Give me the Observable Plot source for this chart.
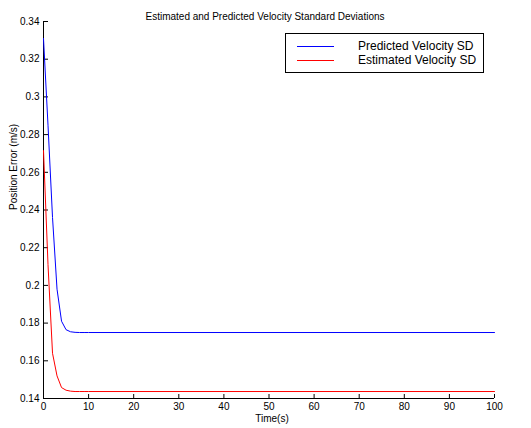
<!DOCTYPE html>
<html>
<head>
<meta charset="utf-8">
<script src="https://cdn.jsdelivr.net/npm/d3@7"></script>
<script src="https://cdn.jsdelivr.net/npm/@observablehq/plot@0.6"></script>
<style>
  body { margin: 0; background: #fff; }
  #wrap { position: relative; width: 531px; height: 428px; font-family: "Liberation Sans", Arial, Helvetica, sans-serif; }
  #legend { position: absolute; left: 285px; top: 33px; width: 199px; height: 40px; border: 1px solid #000; background: #fff; box-sizing: border-box; font-size: 12px; }
  .row { position: absolute; left: 0; height: 14px; width: 100%; }
  .sw { position: absolute; left: 11px; width: 37px; top: 6px; height: 0; border-top: 1px solid; }
  .lb { position: absolute; left: 72px; top: 0; line-height: 13px; white-space: nowrap; color: #000; }
</style>
</head>
<body>
<div id="wrap"></div>
<script>
const title = "Estimated and Predicted Velocity Standard Deviations";
const xLabel = "Time(s)";
const yLabel = "Position Error (m/s)";
const seriesNames = ["Predicted Velocity SD", "Estimated Velocity SD"];
const seriesColors = ["#0000ff", "#ff0000"];
const times = [0, 1, 2, 3, 4, 5, 6, 7, 8, 9, 10, 100];
const predicted = [0.331, 0.285, 0.236, 0.198, 0.181, 0.1765, 0.1754, 0.1751, 0.175, 0.175, 0.175, 0.175];
const estimated = [0.2715, 0.211, 0.164, 0.152, 0.1458, 0.1444, 0.1439, 0.1437, 0.1437, 0.1437, 0.1437, 0.1437];
const xTicks = [0, 10, 20, 30, 40, 50, 60, 70, 80, 90, 100];
const yTicks = [0.14, 0.16, 0.18, 0.2, 0.22, 0.24, 0.26, 0.28, 0.3, 0.32, 0.34];

const data = [];
times.forEach((t, i) => data.push({t, v: predicted[i], s: seriesNames[0]}));
times.forEach((t, i) => data.push({t, v: estimated[i], s: seriesNames[1]}));

const fmt = d => String(+d.toFixed(2));

const chart = Plot.plot({
  width: 531,
  height: 428,
  marginLeft: 43,
  marginRight: 37,
  marginTop: 21,
  marginBottom: 30,
  style: { fontFamily: '"Liberation Sans", Arial, Helvetica, sans-serif', fontSize: "10px", background: "#fff", color: "#000" },
  x: { domain: [0, 100] },
  y: { domain: [0.14, 0.34] },
  color: { domain: seriesNames, range: seriesColors },
  marks: [
    Plot.axisX({ ticks: xTicks, tickSize: -4, tickPadding: 8, label: null, tickFormat: fmt }),
    Plot.axisY({ ticks: yTicks, tickSize: -5, tickPadding: 9, label: null, tickFormat: fmt }),
    Plot.ruleX([0], { stroke: "#000" }),
    Plot.ruleY([0.14], { stroke: "#000" }),
    Plot.line(data, { x: "t", y: "v", z: "s", stroke: "s", strokeWidth: 1 }),
    Plot.text([title], { text: d => d, frameAnchor: "top", dy: -9, dx: -4, fontSize: 10 }),
    Plot.text([xLabel], { text: d => d, frameAnchor: "bottom", dy: 23, dx: 3, fontSize: 10 }),
    Plot.text([yLabel], { text: d => d, frameAnchor: "left", dx: -30, rotate: -90, fontSize: 10 })
  ]
});

const wrap = document.getElementById("wrap");
wrap.appendChild(chart);
const legend = document.createElement("div");
legend.id = "legend";
seriesNames.forEach((name, i) => {
  const row = document.createElement("div");
  row.className = "row";
  row.style.top = (6 + i * 14) + "px";
  const sw = document.createElement("div");
  sw.className = "sw";
  sw.style.borderTopColor = seriesColors[i];
  const lb = document.createElement("div");
  lb.className = "lb";
  lb.textContent = name;
  row.appendChild(sw);
  row.appendChild(lb);
  legend.appendChild(row);
});
wrap.appendChild(legend);
</script>
</body>
</html>
